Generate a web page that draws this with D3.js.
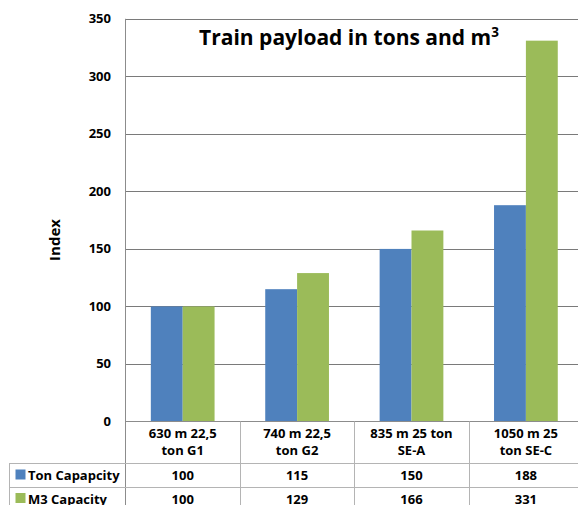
<!DOCTYPE html>
<html><head><meta charset="utf-8">
<script src="https://cdn.jsdelivr.net/npm/d3@7"></script>
<style>
html,body{margin:0;padding:0;background:#fff;}
svg{display:block;font-family:"Open Sans",Lato,sans-serif;font-weight:bold;}
</style></head>
<body>
<svg id="c" width="578" height="505"></svg>
<script>
const categories = [["630 m 22,5","ton G1"],["740 m 22,5","ton G2"],["835 m 25 ton","SE-A"],["1050 m 25","ton SE-C"]];
const seriesNames = ["Ton Capapcity","M3 Capacity"];
const tonValues = [100,115,150,188];
const m3Values = [100,129,166,331];
const yTicks = [0,50,100,150,200,250,300,350];
const colors = ["#4F81BD","#9BBB59"];

const svg = d3.select("#c");
const plotLeft = 125.5, plotTop = 18.8, zeroY = 421.5, catW = 114.4;
const y = d3.scaleLinear().domain([0,350]).range([zeroY, plotTop]);
const x = d3.scaleBand().domain(d3.range(categories.length)).range([plotLeft, plotLeft + catW*categories.length]).padding(0);
const inner = d3.scaleBand().domain([0,1]).range([0, x.bandwidth()]).paddingOuter(0.795).paddingInner(0);

// gridlines
svg.append("g").selectAll("line").data(yTicks.filter(d=>d>0)).join("line")
  .attr("x1", plotLeft).attr("x2", 578)
  .attr("y1", d=>Math.round(y(d))+0.5).attr("y2", d=>Math.round(y(d))+0.5)
  .attr("stroke","#7a7a7a").attr("stroke-width",1);

// y tick labels
svg.append("g").selectAll("text").data(yTicks).join("text")
  .attr("x", 111).attr("y", d=>y(d)+4.5).attr("text-anchor","end")
  .attr("font-size",13).attr("fill","#000").text(d=>d);

// Axis title
svg.append("text").attr("transform","translate(60,240) rotate(-90)")
  .attr("text-anchor","middle").attr("font-size",15).text("Index");

// bars
const series = [tonValues, m3Values];
series.forEach((vals, si) => {
  svg.append("g").selectAll("rect").data(vals).join("rect")
    .attr("x", (d,i)=>x(i)+inner(si))
    .attr("width", inner.bandwidth())
    .attr("y", d=>y(d)).attr("height", d=>zeroY - y(d))
    .attr("fill", colors[si]);
});

// title
const t = svg.append("text").attr("x", 349).attr("y", 45).attr("text-anchor","middle").attr("font-size",21);
t.append("tspan").text("Train payload in tons and m");
t.append("tspan").attr("font-size",13.5).attr("dy",-8).text("3");

// table lines
const tableLine = "#b4b4b4";
const row1 = 463.5, row2 = 487.5, bottom = 511;
// y-axis line
svg.append("line").attr("x1",plotLeft).attr("x2",plotLeft).attr("y1",plotTop).attr("y2",bottom).attr("stroke","#8c8c8c");
// x-axis line
svg.append("line").attr("x1",plotLeft).attr("x2",578).attr("y1",zeroY).attr("y2",zeroY).attr("stroke","#8c8c8c");
// category separators
svg.append("g").selectAll("line").data(d3.range(1,categories.length)).join("line")
  .attr("x1", i=>Math.round(x(i))+0.5).attr("x2", i=>Math.round(x(i))+0.5)
  .attr("y1", zeroY).attr("y2", bottom).attr("stroke", tableLine);
// horizontal table lines
[row1,row2].forEach(yy => svg.append("line").attr("x1",9).attr("x2",578).attr("y1",yy).attr("y2",yy).attr("stroke",tableLine));
svg.append("line").attr("x1",9.5).attr("x2",9.5).attr("y1",row1).attr("y2",bottom).attr("stroke",tableLine);

// category labels
categories.forEach((lines,i)=>{
  const tx = svg.append("text").attr("x", x(i)+x.bandwidth()/2).attr("y", 437.5).attr("text-anchor","middle").attr("font-size",13);
  lines.forEach((l,k)=>tx.append("tspan").attr("x", x(i)+x.bandwidth()/2).attr("dy", k?17.5:0).text(l));
});

// table rows
const rowY = [480, 503.5];
series.forEach((vals, si)=>{
  svg.append("rect").attr("x",15.5).attr("y",rowY[si]-10.5).attr("width",10).attr("height",10).attr("fill",colors[si]);
  svg.append("text").attr("x",28).attr("y",rowY[si]).attr("font-size",13).text(seriesNames[si]);
  svg.append("g").selectAll("text").data(vals).join("text")
    .attr("x",(d,i)=>x(i)+x.bandwidth()/2).attr("y",rowY[si]).attr("text-anchor","middle").attr("font-size",13).text(d=>d);
});
</script>
</body></html>
